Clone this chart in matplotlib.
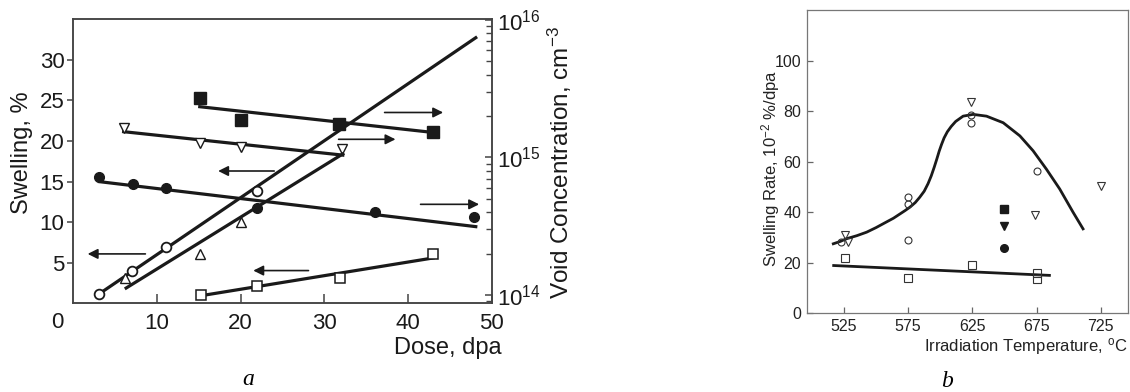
import matplotlib
matplotlib.use('Agg')
import matplotlib.pyplot as plt
from matplotlib.ticker import NullFormatter, LogLocator

plt.rcParams['font.family'] = ['Liberation Sans', 'DejaVu Sans']
plt.rcParams['mathtext.fontset'] = 'custom'
plt.rcParams['mathtext.rm'] = 'Liberation Sans'
plt.rcParams['mathtext.it'] = 'Liberation Sans:italic'
plt.rcParams['mathtext.bf'] = 'Liberation Sans:bold'

# ---- panel a: swelling (left axis, %) ----
oc_dose = [3.1, 7.0, 11.1, 22.0]
oc_swell = [1.2, 4.0, 6.9, 13.9]
oc_fit_dose = [3.1, 48.1]
oc_fit_swell = [1.2, 32.7]

tri_dose = [6.2, 15.1, 20.0]
tri_swell = [3.1, 6.1, 10.0]
fc_low_dose = [22.0]
fc_low_swell = [11.7]
tri_fit_dose = [6.3, 32.2]
tri_fit_swell = [1.9, 18.4]

os_dose = [15.2, 22.0, 31.9, 43.0]
os_swell = [1.0, 2.2, 3.15, 6.1]
os_fit_dose = [15.5, 43.0]
os_fit_swell = [1.0, 5.6]

# ---- panel a: void concentration (right axis, cm^-3) ----
fs_dose = [15.1, 20.0, 31.8, 43.0]
fs_conc = [2.70e15, 1.87e15, 1.75e15, 1.54e15]
fs_fit_dose = [15.1, 43.0]
fs_fit_conc = [2.34e15, 1.52e15]

it_dose = [6.0, 15.1, 20.0, 32.1]
it_conc = [1.63e15, 1.27e15, 1.20e15, 1.15e15]
it_fit_dose = [6.0, 32.2]
it_fit_conc = [1.54e15, 1.04e15]

fc_dose = [3.1, 7.1, 11.1, 36.0, 47.9]
fc_conc = [7.25e14, 6.41e14, 5.97e14, 3.99e14, 3.71e14]
fc_fit_dose = [3.1, 48.1]
fc_fit_conc = [6.67e14, 3.14e14]

# arrows pointing to the axis each series belongs to (left-axis units)
arrow_y = [6.1, 16.3, 4.05, 20.2, 23.5, 12.2]
arrow_from = [8.6, 24.0, 28.1, 31.7, 37.2, 41.5]
arrow_to = [1.7, 17.3, 21.5, 38.5, 44.2, 48.5]

# ---- panel b: swelling rate vs temperature ----
b_oc_temp = [523, 575, 575, 575, 624, 624, 675]
b_oc_rate = [28.2, 45.9, 43.3, 29.1, 78.3, 75.4, 56.1]
b_it_temp = [526, 528, 624, 674, 725]
b_it_rate = [30.8, 28.2, 83.5, 38.9, 50.5]
b_os_temp = [526, 575, 625, 675, 675]
b_os_rate = [22.0, 14.1, 19.0, 16.1, 13.4]
b_fs_temp, b_fs_rate = [650], [41.3]
b_fit_temp, b_fit_rate = [650], [34.7]
b_fc_temp, b_fc_rate = [650], [25.9]

curve_temp = [516.7, 522, 527, 535, 542.7, 550, 558, 563.5, 568.6, 572.5,
              576.4, 580.5, 584, 587.5, 590.5, 593, 595.3, 597.3, 599.2, 601,
              603, 605.5, 608.5, 612, 617.8, 625.6, 636, 649, 662, 672.3,
              682.7, 693, 703.4, 711.2]
curve_rate = [27.5, 28.4, 29.5, 30.7, 32.1, 33.9, 36.1, 37.6, 39.3, 40.6,
              42.0, 43.8, 45.9, 48.3, 51.3, 54.4, 57.8, 61.0, 64.2, 66.8,
              69.4, 71.8, 73.9, 75.9, 78.0, 78.7, 78.0, 75.4, 70.2, 64.3,
              57.0, 49.2, 40.0, 33.4]
sq_fit_temp = [517, 685]
sq_fit_rate = [18.9, 15.0]

ink = '#1a1a1a'
fig = plt.figure(figsize=(11.3, 3.92), dpi=100)

# ================= panel a =================
ax = fig.add_axes([0.065, 0.2258, 0.3701, 0.7257])
ax2 = ax.twinx()
ax.set_zorder(ax2.get_zorder() + 1)
ax.patch.set_visible(False)

lw = 2.3
ax.plot(oc_fit_dose, oc_fit_swell, '-', color=ink, lw=lw, zorder=2)
ax.plot(tri_fit_dose, tri_fit_swell, '-', color=ink, lw=lw, zorder=2)
ax.plot(os_fit_dose, os_fit_swell, '-', color=ink, lw=lw, zorder=2)
ax.plot(oc_dose, oc_swell, 'o', ms=7, mfc='white', mec=ink, mew=1.3, zorder=3)
ax.plot(tri_dose, tri_swell, '^', ms=7.5, mfc='white', mec=ink, mew=1.0, zorder=3)
ax.plot(fc_low_dose, fc_low_swell, 'o', ms=7, mfc=ink, mec=ink, zorder=3)
ax.plot(os_dose, os_swell, 's', ms=7, mfc='white', mec=ink, mew=1.1, zorder=3)

for x0, x1, y in zip(arrow_from, arrow_to, arrow_y):
    ax.annotate('', xy=(x1, y), xytext=(x0, y),
                arrowprops=dict(arrowstyle='-|>', color=ink, lw=1.2,
                                mutation_scale=15, shrinkA=0, shrinkB=0))

ax2.set_yscale('log')
ax2.plot(fs_fit_dose, fs_fit_conc, '-', color=ink, lw=lw)
ax2.plot(it_fit_dose, it_fit_conc, '-', color=ink, lw=lw)
ax2.plot(fc_fit_dose, fc_fit_conc, '-', color=ink, lw=lw)
ax2.plot(fs_dose, fs_conc, 's', ms=8, mfc=ink, mec=ink)
ax2.plot(it_dose, it_conc, 'v', ms=7.5, mfc='white', mec=ink, mew=1.0)
ax2.plot(fc_dose, fc_conc, 'o', ms=7, mfc=ink, mec=ink)

ax.set_xlim(0, 50)
ax.set_ylim(0, 35)
ax2.set_ylim(10 ** 13.938, 10 ** 16.007)

ax.set_xticks([10, 20, 30, 40, 50])
ax.set_yticks([5, 10, 15, 20, 25, 30])
ax.tick_params(axis='x', direction='in', length=6.5, width=1.1, pad=7,
               labelsize=16, colors='#444444', labelcolor=ink)
ax.tick_params(axis='y', direction='out', length=4.5, width=1.1, pad=2,
               labelsize=16, colors='#444444', labelcolor=ink)
ax2.yaxis.set_major_locator(LogLocator(base=10))
ax2.yaxis.set_minor_locator(LogLocator(base=10, subs=range(2, 10)))
ax2.yaxis.set_minor_formatter(NullFormatter())
ax2.tick_params(axis='y', which='major', direction='in', length=5, width=1.1,
                pad=4, labelsize=16, colors='#444444', labelcolor=ink)
ax2.tick_params(axis='y', which='minor', direction='in', length=4.5, width=1.0,
                colors='#444444')
for a in (ax, ax2):
    for sp in a.spines.values():
        sp.set_color('#444444')
        sp.set_linewidth(1.1)

ax.annotate('0', xy=(0, 0), xycoords='data', xytext=(-16, -19),
            textcoords='offset pixels', ha='center', va='center',
            fontsize=16, color=ink)

ax.set_xlabel('Dose, dpa', fontsize=17, color=ink)
ax.xaxis.set_label_coords(0.8955, -0.156)
ax.xaxis.label.set_va('center')
ax.set_ylabel('Swelling, %', fontsize=17, color=ink)
ax.yaxis.set_label_coords(-0.123, 0.529)
ax.yaxis.label.set_va('center')
ax2.set_ylabel('Void Concentration, cm$^{-3}$', fontsize=17.5, color=ink)
ax2.yaxis.set_label_coords(1.163, 0.494)
ax2.yaxis.label.set_va('center')

# ================= panel b =================
bx = fig.add_axes([0.7139, 0.2008, 0.2841, 0.7737])
grey = '#333333'
bx.plot(curve_temp, curve_rate, '-', color=ink, lw=2.0,
        solid_joinstyle='round')
bx.plot(sq_fit_temp, sq_fit_rate, '-', color=ink, lw=2.0)
bx.plot(b_oc_temp, b_oc_rate, 'o', ms=5, mfc='none', mec=grey, mew=0.8)
bx.plot(b_it_temp, b_it_rate, 'v', ms=5.5, mfc='none', mec=grey, mew=0.8)
bx.plot(b_os_temp, b_os_rate, 's', ms=5.5, mfc='none', mec=grey, mew=0.8)
bx.plot(b_fs_temp, b_fs_rate, 's', ms=5.5, mfc=ink, mec=ink)
bx.plot(b_fit_temp, b_fit_rate, 'v', ms=6, mfc=ink, mec=ink)
bx.plot(b_fc_temp, b_fc_rate, 'o', ms=5.5, mfc=ink, mec=ink)

bx.set_xlim(496, 746)
bx.set_ylim(0, 120)
bx.set_xticks([525, 575, 625, 675, 725])
bx.set_yticks([0, 20, 40, 60, 80, 100])
bx.tick_params(direction='in', length=4, width=0.9, pad=4, labelsize=11.5,
               colors='#666666', labelcolor='#222222')
for sp in bx.spines.values():
    sp.set_color('#777777')
    sp.set_linewidth(0.9)

bx.set_xlabel('Irradiation Temperature, $^{\\mathregular{o}}$C', fontsize=12,
              color='#222222')
bx.xaxis.set_label_coords(1.0, -0.111)
bx.xaxis.label.set_ha('right')
bx.xaxis.label.set_va('center')
bx.set_ylabel('Swelling Rate, 10$^{-2}$ %/dpa', fontsize=12, color='#222222')
bx.yaxis.set_label_coords(-0.114, 0.479)
bx.yaxis.label.set_va('center')

# panel captions
fig.text(0.2195, 0.031, 'a', family='Liberation Serif', style='italic',
         fontsize=17, ha='center', va='center', color='black')
fig.text(0.838, 0.028, 'b', family='Liberation Serif', style='italic',
         fontsize=17, ha='center', va='center', color='black')

fig.savefig('out.png', dpi=100)
